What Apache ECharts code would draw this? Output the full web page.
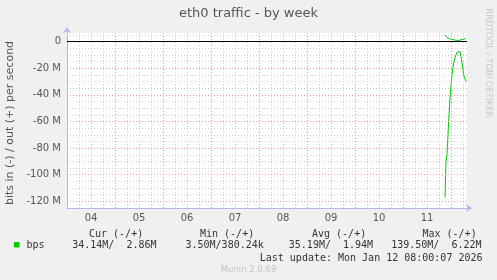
<!DOCTYPE html>
<html><head><meta charset="utf-8">
<script src="https://cdn.jsdelivr.net/npm/echarts@6/dist/echarts.min.js"></script>
<style>html,body{margin:0;padding:0;background:#f0f0f0}#c{width:497px;height:280px}</style>
</head><body><div id="c"></div>
<script>
const chartTitle = 'eth0 traffic - by week';
const yAxisTitle = 'bits in (-) / out (+) per second';
const sideText = 'RRDTOOL / TOBI OETIKER';
const dayLabels = ['04', '05', '06', '07', '08', '09', '10', '11'];
const yTickLabels = [0, -20, -40, -60, -80, -100, -120];
// hours since Jan 04 00:00
const hours = [189, 189.5, 190, 190.5, 191, 191.5, 192, 192.5, 193, 193.5, 194, 194.5, 195, 195.5, 196, 196.5, 197, 197.5, 198, 198.5, 199, 199.5];
// megabits per second: in (drawn negative) and out (positive)
const inMbps = [-117, -90, -85, -70, -55, -43, -33, -25, -19, -15, -12, -10, -8, -7, -6.5, -7.5, -11, -16, -21, -26, -28, -30];
const outMbps = [5, 4, 3.2, 2.5, 2.2, 2, 1.8, 1.7, 1.5, 1.3, 1.1, 1.0, 0.9, 0.9, 0.9, 1.0, 1.2, 1.6, 1.9, 2.1, 2.2, 2.3];
const seriesName = 'bps';
const legendHeaders = ['Cur (-/+)', 'Min (-/+)', 'Avg (-/+)', 'Max (-/+)'];
const legendValues = ['34.14M/  2.86M', '3.50M/380.24k', '35.19M/  1.94M', '139.50M/  6.22M'];
const lastUpdate = 'Last update: Mon Jan 12 08:00:07 2026';
const version = 'Munin 2.0.69';

const GRAY = '#cfcfcf', RED = '#f09a9a', AXIS = '#b4b4f0', NONE = 'rgba(0,0,0,0)';
const MONO = '"DejaVu Sans Mono", monospace';
const SANS = '"DejaVu Sans", sans-serif';

const chart = echarts.init(document.getElementById('c'), null, {renderer: 'canvas'});
const headerX = [89, 200, 312, 422.5];
const valueX = [72.2, 185.5, 288.8, 391.2];
const graphics = [
  {type: 'text', x: 248.5, y: 14, style: {text: chartTitle, font: '13px ' + SANS, fill: '#555', align: 'center', verticalAlign: 'middle'}},
  {type: 'text', x: 10, y: 123, rotation: Math.PI / 2, style: {text: yAxisTitle, font: '11px ' + SANS, fill: '#555', align: 'center', verticalAlign: 'middle'}},
  {type: 'text', x: 488, y: 63, rotation: -Math.PI / 2, style: {text: sideText, font: '8.5px ' + SANS, fill: '#c8c8c8', align: 'center', verticalAlign: 'middle'}},
  {type: 'rect', shape: {x: 14, y: 242, width: 5.5, height: 5.5}, style: {fill: '#00cc00'}},
  {type: 'text', x: 26.5, y: 245.5, style: {text: seriesName, font: '10px ' + MONO, fill: '#333', align: 'left', verticalAlign: 'middle'}},
  {type: 'text', x: 482.5, y: 258, style: {text: lastUpdate, font: '10px ' + MONO, fill: '#333', align: 'right', verticalAlign: 'middle'}},
  {type: 'text', x: 248.5, y: 270, style: {text: version, font: '8.5px ' + SANS, fill: '#c4c4c4', align: 'center', verticalAlign: 'middle'}}
];
legendHeaders.forEach((h, i) => graphics.push({type: 'text', x: headerX[i], y: 234, style: {text: h, font: '10px ' + MONO, fill: '#333', align: 'left', verticalAlign: 'middle'}}));
legendValues.forEach((v, i) => graphics.push({type: 'text', x: valueX[i], y: 245.5, style: {text: v, font: '10px ' + MONO, fill: '#333', align: 'left', verticalAlign: 'middle'}}));

// red major grid lines: day boundaries and labelled y ticks
const majorLines = dayLabels.map((d, i) => ({xAxis: 24 * (i + 1)}))
  .concat(yTickLabels.filter(v => v !== 0).map(v => ({yAxis: v})));

chart.setOption({
  animation: false,
  backgroundColor: '#f0f0f0',
  grid: {left: 67, top: 33, width: 400, height: 175, backgroundColor: '#ffffff', show: true, borderWidth: 0},
  xAxis: {
    type: 'value', min: 0, max: 200, interval: 6,
    axisLine: {show: true, onZero: false, lineStyle: {color: AXIS, width: 1}, symbol: ['none', 'arrow'], symbolSize: [6, 6], symbolOffset: [0, 5]},
    axisTick: {show: false},
    axisLabel: {
      color: '#555', fontSize: 10, fontFamily: SANS, margin: 5, showMaxLabel: false, showMinLabel: false,
      formatter: v => (v % 24 === 12) ? dayLabels[(v - 12) / 24] : ''
    },
    splitLine: {show: true, showMaxLine: false, lineStyle: {color: [NONE, GRAY, GRAY, GRAY], type: [1, 2], width: 1}}
  },
  yAxis: {
    type: 'value', min: -125, max: 6.5, interval: 5,
    axisLine: {show: true, onZero: false, lineStyle: {color: AXIS, width: 1}, symbol: ['none', 'arrow'], symbolSize: [6, 6], symbolOffset: [0, 6]},
    axisTick: {show: false},
    axisLabel: {
      color: '#555', fontSize: 10, fontFamily: SANS, margin: 6, showMaxLabel: false,
      formatter: v => yTickLabels.includes(v) ? (v === 0 ? '0' : v + ' M') : ''
    },
    splitLine: {show: true, showMaxLine: false, lineStyle: {color: [GRAY, NONE, GRAY, GRAY], type: [1, 2], width: 1}}
  },
  series: [
    {
      name: 'grid', type: 'line', data: [], silent: true, z: 1,
      markLine: {silent: true, symbol: 'none', label: {show: false}, animation: false,
        lineStyle: {color: RED, type: [1, 2], width: 1}, data: majorLines}
    },
    {
      name: 'in', type: 'line', data: hours.map((h, i) => [h, inMbps[i]]),
      showSymbol: false, symbol: 'none', lineStyle: {color: '#00cc00', width: 1}, z: 3,
      markLine: {silent: true, symbol: 'none', label: {show: false}, lineStyle: {color: '#000', type: 'solid', width: 1}, data: [{yAxis: 0}]}
    },
    {
      name: 'out', type: 'line', data: hours.map((h, i) => [h, outMbps[i]]),
      showSymbol: false, symbol: 'none', lineStyle: {color: '#00cc00', width: 1}, z: 4
    }
  ],
  graphic: graphics
});
</script></body></html>
